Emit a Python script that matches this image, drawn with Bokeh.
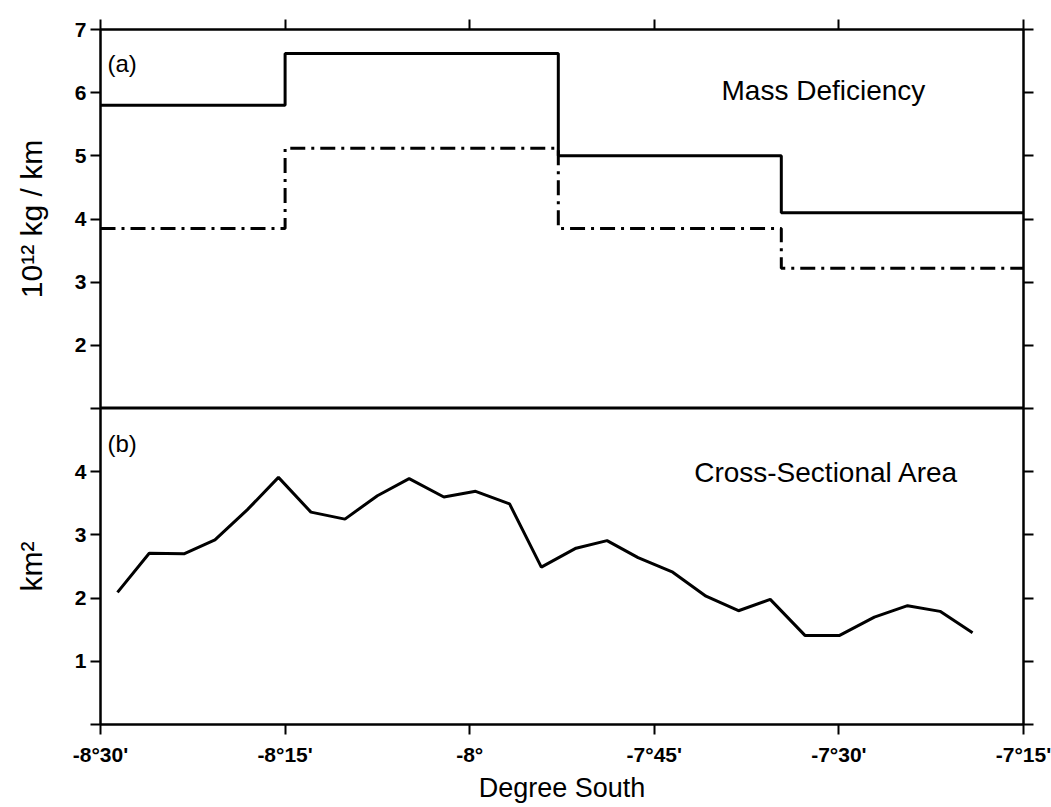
from bokeh.plotting import figure
from bokeh.models import Range1d, LinearAxis, FixedTicker, Label, CustomJSTickFormatter
from bokeh.layouts import column
from bokeh.embed import file_html
from bokeh.resources import INLINE

# ---------------- data ----------------
x_ticks = [-8.5, -8.25, -8.0, -7.75, -7.5, -7.25]
x_tick_labels = ["-8°30'", "-8°15'", "-8°", "-7°45'", "-7°30'", "-7°15'"]

# (a) Mass deficiency: step edges (degrees) and values (10^12 kg/km)
step_edges = [-8.5, -8.25, -7.88, -7.578, -7.25]
mass_solid = [5.8, 6.62, 5.0, 4.1]
mass_dashdot = [3.85, 5.12, 3.85, 3.22]

# (b) Cross-sectional area (km^2)
lat = [-8.477, -8.434, -8.387, -8.345, -8.301, -8.259, -8.215, -8.169, -8.125,
       -8.082, -8.035, -7.992, -7.946, -7.903, -7.856, -7.814, -7.772, -7.725,
       -7.680, -7.636, -7.593, -7.546, -7.499, -7.452, -7.407, -7.363, -7.319]
area = [2.09, 2.71, 2.70, 2.92, 3.40, 3.91, 3.36, 3.25, 3.62,
        3.89, 3.60, 3.69, 3.49, 2.49, 2.79, 2.91, 2.64, 2.41,
        2.03, 1.80, 1.98, 1.41, 1.41, 1.70, 1.88, 1.79, 1.45]

top_y_ticks = [1, 2, 3, 4, 5, 6, 7]
bot_y_ticks = [0, 1, 2, 3, 4, 5]

FONT = "Liberation Sans"
xr = Range1d(x_ticks[0], x_ticks[-1])


def style_axis(ax, ticks, show_labels=True, overrides=None):
    ax.ticker = FixedTicker(ticks=ticks)
    ax.axis_line_width = 2
    ax.axis_line_color = "black"
    ax.major_tick_line_width = 2
    ax.major_tick_line_color = "black"
    ax.major_tick_out = 10
    ax.major_tick_in = 0
    ax.minor_tick_line_color = None
    ax.major_label_text_font = FONT
    ax.major_label_text_font_style = "bold"
    ax.major_label_text_color = "black"
    ax.major_label_text_font_size = "21px"
    ax.axis_label_text_font = FONT
    ax.axis_label_text_font_style = "normal"
    ax.axis_label_text_color = "black"
    if show_labels:
        if overrides:
            ax.major_label_overrides = overrides
    else:
        ax.formatter = CustomJSTickFormatter(code="return ''")
        ax.major_label_text_font_size = "0px"
        ax.major_label_standoff = 0


# ---------------- top panel ----------------
p1 = figure(width=1051, height=408, x_range=xr, y_range=Range1d(1, 7),
            output_backend="svg", toolbar_location=None,
            x_axis_location="above",
            min_border_left=100, min_border_right=28,
            min_border_top=29, min_border_bottom=0)
p1.grid.visible = False
p1.outline_line_color = "black"
p1.outline_line_width = 2
p1.background_fill_color = "white"
p1.border_fill_color = "white"

style_axis(p1.xaxis[0], x_ticks, show_labels=False)
style_axis(p1.yaxis[0], top_y_ticks, overrides={1: ""})
p1.yaxis[0].major_label_standoff = 4
p1.yaxis[0].axis_label = "10¹² kg / km"
p1.yaxis[0].axis_label_text_font_size = "30px"
p1.yaxis[0].axis_label_standoff = 24
r1 = LinearAxis()
style_axis(r1, top_y_ticks, show_labels=False)
p1.add_layout(r1, "right")

p1.step(step_edges, mass_solid + [mass_solid[-1]], mode="after",
        line_color="black", line_width=3)
p1.step(step_edges, mass_dashdot + [mass_dashdot[-1]], mode="after",
        line_color="black", line_width=3, line_dash="15 6 3 6")

p1.add_layout(Label(x=x_ticks[0], y=6.46, x_offset=7, text="(a)",
                    text_font=FONT, text_font_size="24px",
                    text_baseline="alphabetic", text_color="black"))
p1.add_layout(Label(x=-7.659, y=6.03, text="Mass Deficiency",
                    text_font=FONT, text_font_size="28px",
                    text_baseline="alphabetic", text_color="black"))

# ---------------- bottom panel ----------------
p2 = figure(width=1051, height=399, x_range=xr, y_range=Range1d(0, 5),
            output_backend="svg", toolbar_location=None,
            min_border_left=100, min_border_right=28,
            min_border_top=0, min_border_bottom=83)
p2.grid.visible = False
p2.outline_line_color = "black"
p2.outline_line_width = 2
p2.background_fill_color = "white"
p2.border_fill_color = "white"

style_axis(p2.xaxis[0], x_ticks,
           overrides={t: s for t, s in zip(x_ticks, x_tick_labels)})
p2.xaxis[0].major_label_standoff = 8
p2.xaxis[0].axis_label = "Degree South"
p2.xaxis[0].axis_label_text_font_size = "27px"
p2.xaxis[0].axis_label_standoff = 4
style_axis(p2.yaxis[0], bot_y_ticks, overrides={0: "", 5: ""})
p2.yaxis[0].major_label_standoff = 4
p2.yaxis[0].axis_label = "km²"
p2.yaxis[0].axis_label_text_font_size = "30px"
p2.yaxis[0].axis_label_standoff = 24
r2 = LinearAxis()
style_axis(r2, bot_y_ticks, show_labels=False)
p2.add_layout(r2, "right")

p2.line(lat, area, line_color="black", line_width=3)

p2.add_layout(Label(x=x_ticks[0], y=4.44, x_offset=7, text="(b)",
                    text_font=FONT, text_font_size="24px",
                    text_baseline="alphabetic", text_color="black"))
p2.add_layout(Label(x=-7.696, y=3.98, text="Cross-Sectional Area",
                    text_font=FONT, text_font_size="28px",
                    text_baseline="alphabetic", text_color="black"))

layout = column(p1, p2, spacing=0)
open("out.html", "w").write(file_html(layout, INLINE))
